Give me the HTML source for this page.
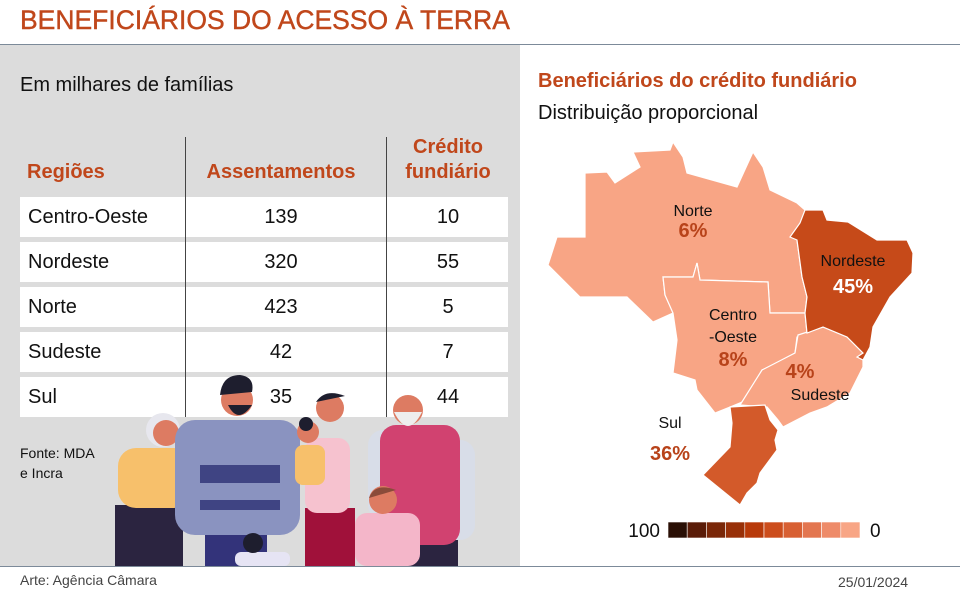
<!DOCTYPE html>
<html><head><meta charset="utf-8"><style>
body{margin:0;width:960px;height:600px;background:#fff;font-family:"Liberation Sans",sans-serif;position:relative;overflow:hidden}
.a{position:absolute}
.title{left:20px;top:5px;font-size:26.5px;color:#c0471b;letter-spacing:0px;-webkit-text-stroke:0.4px #c0471b}
.row{position:absolute;left:20px;width:488px;height:40px;background:#fff}
.row span{position:absolute;top:9px;font-size:20px;color:#111}
.hd{color:#c0471b;font-weight:bold;font-size:20px;position:absolute;text-align:center}
</style></head><body>
<div class="a title">BENEFICIÁRIOS DO ACESSO À TERRA</div>
<div class="a" style="left:0;top:44px;width:960px;height:1px;background:#7c8a99"></div>
<div class="a" style="left:0;top:45px;width:520px;height:521px;background:#dcdcdc"></div>
<div class="a" style="left:20px;top:74px;font-size:20px;color:#111">Em milhares de famílias</div>
<div class="hd" style="left:27px;top:161px">Regiões</div>
<div class="hd" style="left:186px;width:190px;top:161px">Assentamentos</div>
<div class="hd" style="left:388px;width:120px;top:135px;line-height:25px">Crédito<br>fundiário</div>
<div id="rows"></div>
<div class="a" style="left:185px;top:137px;width:1px;height:280px;background:#444"></div>
<div class="a" style="left:386px;top:137px;width:1px;height:280px;background:#444"></div>
<div class="a" style="left:20px;top:443px;font-size:14px;line-height:20px;color:#111">Fonte: MDA<br>e Incra</div>
<svg class="a" style="left:0;top:0" width="520" height="566">
<rect x="115" y="505" width="68" height="61" fill="#2b2440"/>
<rect x="118" y="448" width="74" height="60" rx="18" fill="#f7c06b"/>
<circle cx="163" cy="430" r="17" fill="#e7e7ee"/><circle cx="166" cy="433" r="13" fill="#dd7b62"/>
<rect x="205" y="530" width="62" height="36" fill="#33337a"/>
<rect x="175" y="420" width="125" height="115" rx="20" fill="#8a93c0"/>
<rect x="200" y="465" width="80" height="18" fill="#3f4483"/><rect x="200" y="500" width="80" height="10" fill="#3f4483"/>
<circle cx="237" cy="400" r="16" fill="#dd7b62"/><path d="M220 395 Q222 375 240 375 Q255 377 252 392 Z" fill="#1e1e2e"/><path d="M228 405 Q238 425 252 405 Z" fill="#1e1e2e"/>
<rect x="235" y="552" width="55" height="14" rx="6" fill="#e6e4f4"/><circle cx="253" cy="543" r="10" fill="#1e1e2e"/>
<rect x="305" y="508" width="50" height="58" fill="#a0113a"/>
<rect x="305" y="438" width="45" height="75" rx="12" fill="#f6c2cf"/>
<circle cx="330" cy="408" r="14" fill="#dd7b62"/><path d="M316 402 Q325 388 345 396 Z" fill="#1e1e2e"/>
<rect x="295" y="445" width="30" height="40" rx="8" fill="#f7c06b"/><circle cx="308" cy="432" r="11" fill="#dd7b62"/><circle cx="306" cy="424" r="7" fill="#1e1e2e"/>
<rect x="378" y="540" width="80" height="26" fill="#2b2440"/>
<rect x="440" y="440" width="35" height="100" rx="15" fill="#d8dde8"/>
<rect x="368" y="430" width="35" height="90" rx="15" fill="#d8dde8"/>
<rect x="380" y="425" width="80" height="120" rx="16" fill="#d14270"/>
<circle cx="408" cy="410" r="15" fill="#dd7b62"/><path d="M394 412 Q408 440 422 412 Z" fill="#eeeeee"/>
<rect x="355" y="513" width="65" height="53" rx="12" fill="#f4b6c9"/><circle cx="383" cy="500" r="14" fill="#dd7b62"/><path d="M369 498 Q375 482 396 490 Z" fill="#8a4b3a"/>
</svg>
<div class="a" style="left:0;top:566px;width:960px;height:1px;background:#7c8a99"></div>
<div class="a" style="left:20px;top:572px;font-size:14px;color:#444">Arte: Agência Câmara</div>
<div class="a" style="left:838px;top:574px;font-size:14px;color:#444">25/01/2024</div>
<div class="a" style="left:538px;top:70px;font-size:20px;font-weight:bold;color:#c0471b">Beneficiários do crédito fundiário</div>
<div class="a" style="left:538px;top:102px;font-size:20px;color:#111">Distribuição proporcional</div>
<svg id="map" class="a" style="left:0;top:0" width="960" height="566"></svg>
<script>
const regions=["Centro-Oeste","Nordeste","Norte","Sudeste","Sul"];
const assentamentos=[139,320,423,42,35];
const credito=[10,55,5,7,44];
const shares=[8,45,6,4,36];
const scaleColors=["#2a0f05","#5a1c08","#7a2708","#983008","#b83a0a","#cc4d1c","#d86033","#e37650","#ee8b69","#f8a585"];
const rowsEl=document.getElementById('rows');
regions.forEach((r,i)=>{
 const d=document.createElement('div');d.className='row';d.style.top=(197+i*45)+'px';
 
 
 d.innerHTML='<span style="left:8px">'+r+'</span><span style="left:166px;width:190px;text-align:center">'+assentamentos[i]+'</span><span style="left:368px;width:120px;text-align:center">'+credito[i]+'</span>';
 rowsEl.appendChild(d);
});
const shapes={
"Norte":"548,265 557,237 585,237 585,173 607,172 615,183 640,167 633,152 670,150 673,142 683,157 687,173 737,187 753,152 763,167 770,190 797,203 805,210 797,240 802,277 807,297 805,313 770,313 768,282 700,280 697,263 693,277 663,277 665,295 673,313 653,322 627,297 580,297",
"Centro-Oeste":"663,277 693,277 697,263 700,280 768,282 770,313 805,313 807,333 797,337 795,353 773,365 762,370 747,400 730,407 715,413 697,390 695,380 673,373 677,340 673,313 665,295",
"Sudeste":"798,335 823,327 847,337 863,353 863,367 850,393 827,407 810,413 783,427 778,420 767,407 740,405 762,370 795,353",
"Nordeste":"805,210 823,210 827,220 848,222 877,240 907,240 913,253 912,273 890,297 873,327 870,347 863,360 857,357 863,353 847,337 823,327 807,333 805,313 807,297 802,277 797,240 790,237 800,223",
"Sul":"730,407 765,405 770,420 778,430 775,440 777,450 760,473 757,483 747,493 740,505 703,475 730,447 732,423"};
const labels={"Norte":[693,216,237,"#111"],"Centro-Oeste":[733,320,366,"#111"],"Sudeste":[820,400,375,"#111"],"Nordeste":[853,266,293,"#fff"],"Sul":[670,428,460,"#111"]};
const svg=document.getElementById('map');const NS='http://www.w3.org/2000/svg';
function colorFor(v){const k=Math.min(9,Math.max(0,Math.floor((100-v)/10)));return scaleColors[k];}
["Norte","Centro-Oeste","Sudeste","Nordeste","Sul"].forEach(r=>{
 const i=regions.indexOf(r);
 const p=document.createElementNS(NS,'polygon');p.setAttribute('points',shapes[r]);
 let c=colorFor(shares[i]); if(shares[i]>40) c="#c64a19"; else if(shares[i]>30) c="#d35a2a";
 p.setAttribute('fill',c);p.setAttribute('stroke','#fff');p.setAttribute('stroke-width','1.2');
 
 
 svg.appendChild(p);
});
Object.keys(labels).forEach(r=>{
 const i=regions.indexOf(r);const [x,y1,y2,col]=labels[r];
 const t=document.createElementNS(NS,'text');t.setAttribute('x',x);t.setAttribute('y',y1);t.setAttribute('text-anchor','middle');t.setAttribute('font-size','16');t.setAttribute('fill','#111');
 if(r==="Centro-Oeste"){t.innerHTML='<tspan x="'+x+'">Centro</tspan><tspan x="'+x+'" dy="22">-Oeste</tspan>';}else t.textContent=r;
 
 
 svg.appendChild(t);
 const v=document.createElementNS(NS,'text');v.setAttribute('x',x);v.setAttribute('y',r==="Sudeste"?378:y2);v.setAttribute('text-anchor','middle');v.setAttribute('font-size','20');v.setAttribute('font-weight','bold');v.setAttribute('fill',col==="#fff"?"#fff":"#b8431a");
 if(r==="Sudeste"){v.setAttribute('x',800);t.setAttribute('y',400);}
 v.textContent=shares[i]+'%';
 
 
 svg.appendChild(v);
});
scaleColors.forEach((c,k)=>{
 const r=document.createElementNS(NS,'rect');r.setAttribute('x',668+k*19.2);r.setAttribute('y',522);r.setAttribute('width',19.2);r.setAttribute('height',16);r.setAttribute('fill',c);r.setAttribute('stroke','#fff');r.setAttribute('stroke-width','0.6');
 
 
 svg.appendChild(r);
});
[["100",660,"end"],["0",870,"start"]].forEach(([s,x,a])=>{
 const t=document.createElementNS(NS,'text');t.setAttribute('x',x);t.setAttribute('y',537);t.setAttribute('text-anchor',a);t.setAttribute('font-size','19');t.setAttribute('fill','#111');t.textContent=s;
 
 
 svg.appendChild(t);
});
</script>
</body></html>
